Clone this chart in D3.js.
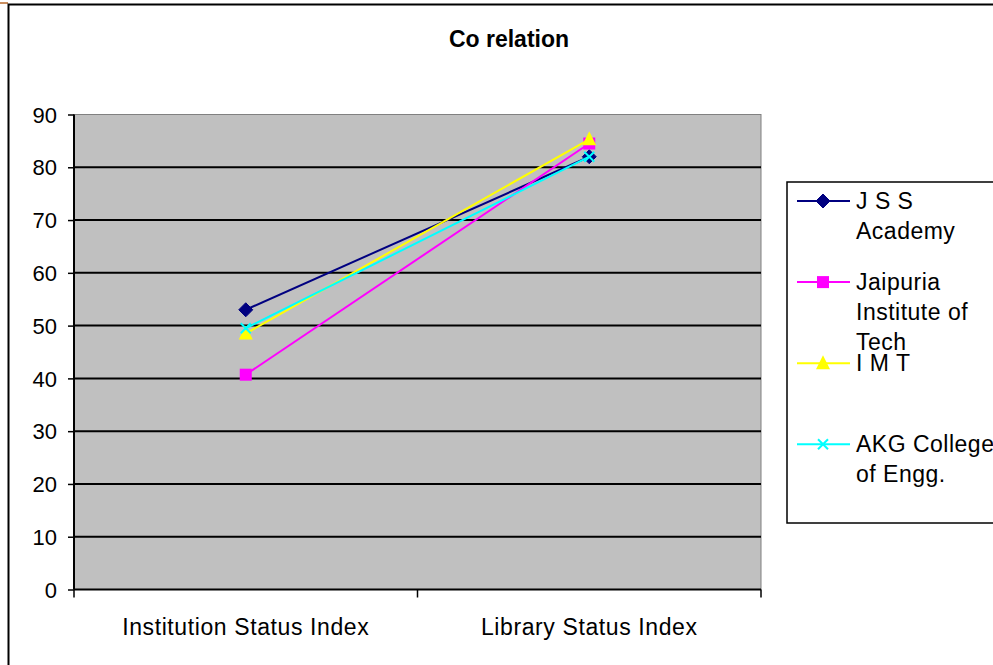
<!DOCTYPE html>
<html>
<head>
<meta charset="utf-8">
<script src="https://cdn.jsdelivr.net/npm/d3@7"></script>
<style>
html,body{margin:0;padding:0;background:#fff;}
svg{display:block;}
text{font-family:"Liberation Sans",Arial,sans-serif;fill:#000;}
</style>
</head>
<body>
<svg id="chart" width="993" height="665"></svg>
<script>
const categories = ["Institution Status Index", "Library Status Index"];
const seriesNames = [["J S S", "Academy"], ["Jaipuria", "Institute of", "Tech"], ["I M T"], ["AKG College", "of Engg."]];
const jssValues = [53, 82];
const jaipuriaValues = [40.7, 84.5];
const imtValues = [48.5, 85.3];
const akgValues = [49.5, 82];
const yTicks = [0, 10, 20, 30, 40, 50, 60, 70, 80, 90];
const title = "Co relation";

const series = [
  {name: seriesNames[0], values: jssValues, color: "#000080", marker: "diamond"},
  {name: seriesNames[1], values: jaipuriaValues, color: "#ff00ff", marker: "square"},
  {name: seriesNames[2], values: imtValues, color: "#ffff00", marker: "triangle"},
  {name: seriesNames[3], values: akgValues, color: "#00ffff", marker: "cross"}
];

const svg = d3.select("#chart");

// small orange mark at top-left
svg.append("line").attr("x1", 0).attr("x2", 8).attr("y1", 3).attr("y2", 3)
  .attr("stroke", "#b8692a").attr("stroke-width", 1.5);
// outer chart frame (extends beyond the picture)
svg.append("rect").attr("x", 8.5).attr("y", 4.5).attr("width", 1100).attr("height", 800)
  .attr("fill", "#fff").attr("stroke", "#000").attr("stroke-width", 2);

const plot = {left: 74, right: 761, top: 114.5, bottom: 589.5};
const x = d3.scalePoint().domain(categories).range([plot.left, plot.right]).padding(0.5);
const y = d3.scaleLinear().domain([0, 90]).range([plot.bottom, plot.top]);

// plot area
svg.append("rect").attr("x", plot.left).attr("y", plot.top)
  .attr("width", plot.right - plot.left).attr("height", plot.bottom - plot.top)
  .attr("fill", "#c0c0c0").attr("stroke", "#808080").attr("stroke-width", 1);

// gridlines
svg.append("g").selectAll("line").data(yTicks.filter(d => d > 0 && d < 90)).join("line")
  .attr("x1", plot.left).attr("x2", plot.right)
  .attr("y1", d => y(d)).attr("y2", d => y(d))
  .attr("stroke", "#000").attr("stroke-width", 2);

// y axis
const yAxis = d3.axisLeft(y).tickValues(yTicks).tickSize(6).tickPadding(6).tickFormat(d3.format("d"));
const gy = svg.append("g").attr("transform", `translate(${plot.left},0)`).call(yAxis);
gy.select(".domain").attr("stroke", "#000").attr("stroke-width", 2).attr("d", `M0,${plot.top}V${plot.bottom}`);
gy.selectAll(".tick line").attr("stroke", "#000").attr("stroke-width", 1.5);
gy.selectAll(".tick text").attr("font-size", 22).attr("font-family", "Liberation Sans, Arial, sans-serif")
  .attr("fill", "#000").attr("x", -17).attr("dy", "0.35em");

// x axis
const bandEdges = [plot.left, (plot.left + plot.right) / 2, plot.right];
const gx = svg.append("g").attr("transform", `translate(0,${plot.bottom})`);
gx.append("line").attr("x1", plot.left).attr("x2", plot.right).attr("y1", 0).attr("y2", 0)
  .attr("stroke", "#000").attr("stroke-width", 2);
gx.selectAll(".xt").data(bandEdges).join("line").attr("class", "xt")
  .attr("x1", d => d).attr("x2", d => d).attr("y1", 0).attr("y2", 8)
  .attr("stroke", "#000").attr("stroke-width", 1.5);
gx.selectAll(".xl").data(categories).join("text").attr("class", "xl")
  .attr("x", d => x(d)).attr("y", 45).attr("text-anchor", "middle")
  .attr("font-size", 23).attr("letter-spacing", 0.6).text(d => d);

// title
svg.append("text").attr("x", 509).attr("y", 47).attr("text-anchor", "middle")
  .attr("font-size", 23).attr("font-weight", "bold").text(title);

// markers
function drawMarker(g, type, cx, cy, color) {
  if (type === "diamond") {
    g.append("path").attr("d", `M${cx},${cy-7}L${cx+7},${cy}L${cx},${cy+7}L${cx-7},${cy}Z`)
      .attr("fill", color).attr("stroke", color).attr("stroke-width", 1);
  } else if (type === "square") {
    g.append("rect").attr("x", cx - 6).attr("y", cy - 6).attr("width", 12).attr("height", 12)
      .attr("fill", color);
  } else if (type === "triangle") {
    g.append("path").attr("d", `M${cx},${cy-8}L${cx+7},${cy+6}L${cx-7},${cy+6}Z`).attr("fill", color);
  } else if (type === "cross") {
    g.append("path").attr("d", `M${cx-5},${cy-5}L${cx+5},${cy+5}M${cx+5},${cy-5}L${cx-5},${cy+5}`)
      .attr("stroke", color).attr("stroke-width", 2).attr("fill", "none");
  }
}

const line = d3.line().x((d, i) => x(categories[i])).y(d => y(d));
series.forEach(s => {
  const g = svg.append("g");
  g.append("path").datum(s.values).attr("d", line).attr("fill", "none")
    .attr("stroke", s.color).attr("stroke-width", 2);
  s.values.forEach((v, i) => drawMarker(g, s.marker, x(categories[i]), y(v), s.color));
});

// legend
const lg = svg.append("g");
lg.append("rect").attr("x", 787).attr("y", 182).attr("width", 400).attr("height", 341)
  .attr("fill", "#fff").attr("stroke", "#000").attr("stroke-width", 1.5);
series.forEach((s, i) => {
  const ly = 201 + i * 81.1;
  lg.append("line").attr("x1", 797).attr("x2", 850).attr("y1", ly).attr("y2", ly)
    .attr("stroke", s.color).attr("stroke-width", 2);
  drawMarker(lg, s.marker, 823, ly, s.color);
  const t = lg.append("text").attr("x", 856).attr("y", ly + 7.5).attr("font-size", 23).attr("letter-spacing", 0.5);
  s.name.forEach((ln, j) => {
    t.append("tspan").attr("x", 856).attr("dy", j === 0 ? 0 : 30).text(ln);
  });
});
</script>
</body>
</html>
